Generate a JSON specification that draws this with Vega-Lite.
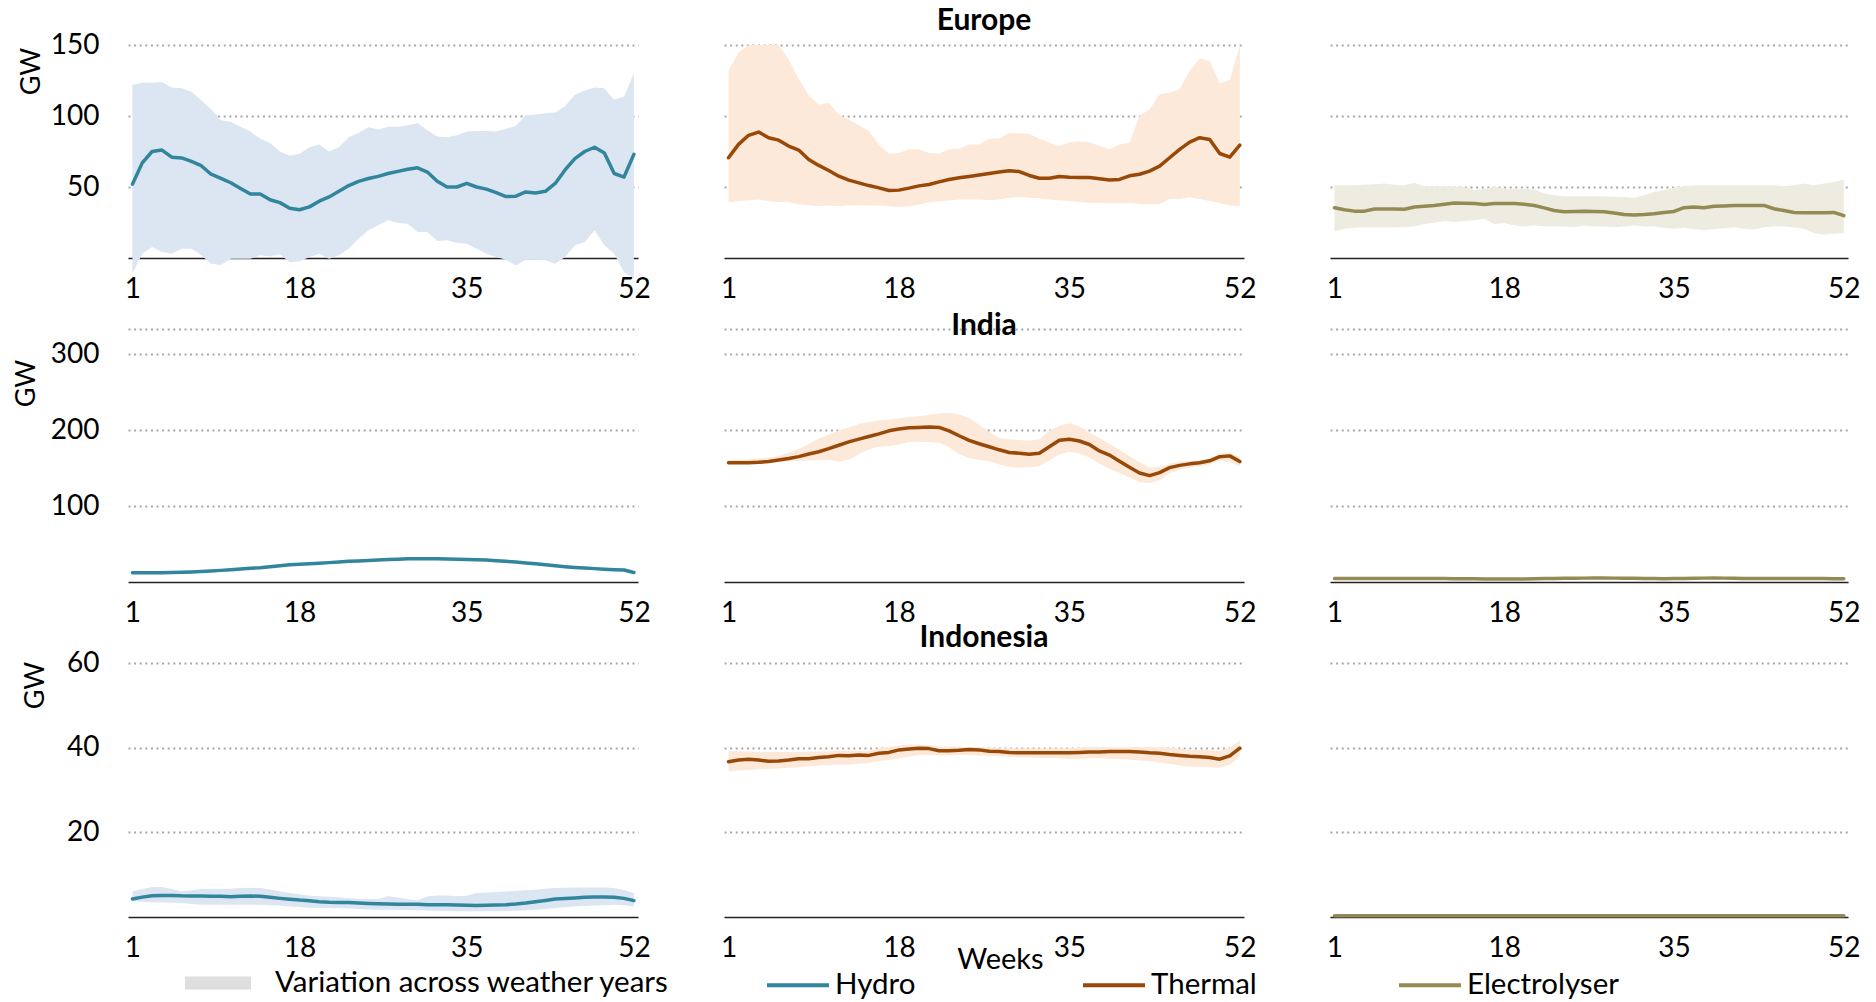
{
"$schema":"https://vega.github.io/schema/vega-lite/v6.json",
"background":"white",
"padding":{"left":12,"top":6,"right":0,"bottom":0},
"datasets":{
"EH":[{"w":1,"m":52,"lo":-11,"hi":122},{"w":2,"m":67,"lo":3,"hi":123.5},{"w":3,"m":75,"lo":7.8,"hi":123.5},{"w":4,"m":76,"lo":4.2,"hi":124},{"w":5,"m":71,"lo":3,"hi":120},{"w":6,"m":70.5,"lo":6.6,"hi":119.5},{"w":7,"m":68,"lo":6.6,"hi":117},{"w":8,"m":65,"lo":2,"hi":111},{"w":9,"m":59,"lo":-4,"hi":105},{"w":10,"m":56,"lo":-5,"hi":97},{"w":11,"m":53,"lo":-0.5,"hi":96},{"w":12,"m":49,"lo":-0.5,"hi":92.5},{"w":13,"m":45,"lo":-0.5,"hi":89},{"w":14,"m":45,"lo":2,"hi":84},{"w":15,"m":41,"lo":1,"hi":81},{"w":16,"m":39,"lo":2.6,"hi":75},{"w":17,"m":35,"lo":-3,"hi":72},{"w":18,"m":34,"lo":-2.4,"hi":73.5},{"w":19,"m":36,"lo":0.7,"hi":78},{"w":20,"m":40,"lo":3,"hi":80},{"w":21,"m":43,"lo":-0.5,"hi":75},{"w":22,"m":47,"lo":2,"hi":78},{"w":23,"m":51,"lo":6.6,"hi":85},{"w":24,"m":54,"lo":13.6,"hi":88},{"w":25,"m":56,"lo":19.5,"hi":92},{"w":26,"m":57.5,"lo":23,"hi":90.5},{"w":27,"m":59.5,"lo":26.6,"hi":92.5},{"w":28,"m":61,"lo":24.7,"hi":92.5},{"w":29,"m":62.5,"lo":24.2,"hi":93.5},{"w":30,"m":63.5,"lo":18.3,"hi":95},{"w":31,"m":60.5,"lo":18.3,"hi":90},{"w":32,"m":54,"lo":12,"hi":85.5},{"w":33,"m":50,"lo":12.5,"hi":85},{"w":34,"m":50,"lo":10.6,"hi":86.5},{"w":35,"m":52.5,"lo":10.1,"hi":89},{"w":36,"m":50,"lo":6.6,"hi":89.5},{"w":37,"m":48.5,"lo":3,"hi":89.5},{"w":38,"m":46,"lo":0.7,"hi":89},{"w":39,"m":43.3,"lo":-1.2,"hi":91},{"w":40,"m":43.5,"lo":-5.2,"hi":93},{"w":41,"m":46.5,"lo":-1.2,"hi":100.5},{"w":42,"m":45.8,"lo":-1.2,"hi":101},{"w":43,"m":47,"lo":-1.6,"hi":102},{"w":44,"m":52.5,"lo":-4,"hi":102.5},{"w":45,"m":62,"lo":0.7,"hi":107},{"w":46,"m":70,"lo":9,"hi":115},{"w":47,"m":75,"lo":11.3,"hi":118},{"w":48,"m":78,"lo":19.5,"hi":120},{"w":49,"m":74,"lo":9,"hi":119.5},{"w":50,"m":59.5,"lo":3,"hi":111.5},{"w":51,"m":57,"lo":-10,"hi":113.5},{"w":52,"m":73,"lo":-14,"hi":130}],
"ET":[{"w":1,"m":70.6,"lo":39.3,"hi":131.8},{"w":2,"m":80,"lo":40,"hi":144.7},{"w":3,"m":86.4,"lo":40.7,"hi":150},{"w":4,"m":88.7,"lo":41.2,"hi":150},{"w":5,"m":84.7,"lo":40,"hi":150},{"w":6,"m":83,"lo":39.5,"hi":150},{"w":7,"m":78.8,"lo":39.5,"hi":140},{"w":8,"m":76,"lo":37.6,"hi":126},{"w":9,"m":69.4,"lo":37.2,"hi":114.6},{"w":10,"m":65.2,"lo":36.5,"hi":108},{"w":11,"m":61.6,"lo":37,"hi":109.4},{"w":12,"m":57.6,"lo":36.5,"hi":101},{"w":13,"m":54.8,"lo":37,"hi":97.6},{"w":14,"m":52.9,"lo":37.2,"hi":93.4},{"w":15,"m":51,"lo":37,"hi":89.4},{"w":16,"m":49.4,"lo":37,"hi":80},{"w":17,"m":47.5,"lo":36.5,"hi":73.4},{"w":18,"m":47.8,"lo":36,"hi":74},{"w":19,"m":49.2,"lo":36.5,"hi":76.5},{"w":20,"m":50.8,"lo":37.6,"hi":76.5},{"w":21,"m":51.8,"lo":39.3,"hi":74},{"w":22,"m":53.6,"lo":40,"hi":73.6},{"w":23,"m":55.3,"lo":40.5,"hi":76.5},{"w":24,"m":56.5,"lo":41.2,"hi":77},{"w":25,"m":57.4,"lo":41.2,"hi":80},{"w":26,"m":58.4,"lo":41.2,"hi":80},{"w":27,"m":59.5,"lo":40.7,"hi":84.2},{"w":28,"m":60.5,"lo":41.2,"hi":84.2},{"w":29,"m":61.4,"lo":42.4,"hi":88.2},{"w":30,"m":60.9,"lo":43,"hi":87.8},{"w":31,"m":58.1,"lo":42.4,"hi":87.5},{"w":32,"m":56.2,"lo":42.1,"hi":84},{"w":33,"m":56.2,"lo":41.2,"hi":81.2},{"w":34,"m":57.4,"lo":40.7,"hi":78.8},{"w":35,"m":56.9,"lo":40,"hi":81.6},{"w":36,"m":56.7,"lo":39.5,"hi":82},{"w":37,"m":56.7,"lo":38.8,"hi":81.6},{"w":38,"m":55.8,"lo":38.8,"hi":78.8},{"w":39,"m":55,"lo":38.8,"hi":76.5},{"w":40,"m":55.3,"lo":38.4,"hi":80},{"w":41,"m":57.9,"lo":38.8,"hi":81.2},{"w":42,"m":59,"lo":38.1,"hi":100},{"w":43,"m":61.2,"lo":37.6,"hi":104.7},{"w":44,"m":64.7,"lo":38.1,"hi":115.3},{"w":45,"m":70.6,"lo":41.6,"hi":116.5},{"w":46,"m":76.5,"lo":41.6,"hi":118.8},{"w":47,"m":81.6,"lo":42.8,"hi":131.8},{"w":48,"m":84.7,"lo":41.6,"hi":140.5},{"w":49,"m":83.5,"lo":40.2,"hi":138.8},{"w":50,"m":73.6,"lo":38.8,"hi":123},{"w":51,"m":71,"lo":37,"hi":125.4},{"w":52,"m":79.5,"lo":36.5,"hi":149.4}],
"EE":[{"w":1,"m":35.4,"lo":18.7,"hi":51.3},{"w":2,"m":34,"lo":20.6,"hi":51.3},{"w":3,"m":33,"lo":21.3,"hi":51.3},{"w":4,"m":33,"lo":21.7,"hi":51.5},{"w":5,"m":34.5,"lo":21.7,"hi":52},{"w":6,"m":34.5,"lo":21.7,"hi":52.5},{"w":7,"m":34.5,"lo":21.7,"hi":51.5},{"w":8,"m":34.3,"lo":21.7,"hi":51.3},{"w":9,"m":35.9,"lo":22.2,"hi":53},{"w":10,"m":36.5,"lo":24,"hi":50.5},{"w":11,"m":37,"lo":24.8,"hi":50.5},{"w":12,"m":37.8,"lo":26,"hi":50.5},{"w":13,"m":38.7,"lo":25.3,"hi":50.5},{"w":14,"m":38.5,"lo":26,"hi":50},{"w":15,"m":38.3,"lo":26.5,"hi":47.7},{"w":16,"m":37.6,"lo":27.6,"hi":48.6},{"w":17,"m":38.3,"lo":24,"hi":50.5},{"w":18,"m":38.3,"lo":24.6,"hi":48.8},{"w":19,"m":38.3,"lo":22.9,"hi":48.8},{"w":20,"m":37.8,"lo":22.2,"hi":48.8},{"w":21,"m":37,"lo":22.9,"hi":48.5},{"w":22,"m":35.3,"lo":22.4,"hi":45.4},{"w":23,"m":33.5,"lo":22.2,"hi":44.2},{"w":24,"m":32.6,"lo":22.2,"hi":43.5},{"w":25,"m":32.8,"lo":21.7,"hi":43.5},{"w":26,"m":33,"lo":22.9,"hi":43.5},{"w":27,"m":32.8,"lo":22.2,"hi":43.5},{"w":28,"m":32.6,"lo":22.2,"hi":43.5},{"w":29,"m":31.7,"lo":21.7,"hi":43.2},{"w":30,"m":30.7,"lo":22.2,"hi":43},{"w":31,"m":30.2,"lo":22.9,"hi":42.5},{"w":32,"m":30.6,"lo":22.2,"hi":44.2},{"w":33,"m":31.2,"lo":22.2,"hi":46.5},{"w":34,"m":32,"lo":21.3,"hi":47.7},{"w":35,"m":32.8,"lo":20.6,"hi":49.6},{"w":36,"m":35.4,"lo":21.3,"hi":50.5},{"w":37,"m":35.9,"lo":20.3,"hi":51.3},{"w":38,"m":35.4,"lo":19.8,"hi":51.3},{"w":39,"m":36.4,"lo":20.3,"hi":51.3},{"w":40,"m":36.7,"lo":21,"hi":51.3},{"w":41,"m":37,"lo":21.7,"hi":51.3},{"w":42,"m":37,"lo":20.6,"hi":51.3},{"w":43,"m":37,"lo":20.1,"hi":51.3},{"w":44,"m":37,"lo":21.7,"hi":51.3},{"w":45,"m":34.7,"lo":22.2,"hi":51.3},{"w":46,"m":33.4,"lo":22.2,"hi":50.5},{"w":47,"m":32.1,"lo":21.7,"hi":51.3},{"w":48,"m":31.9,"lo":20.6,"hi":52.4},{"w":49,"m":31.9,"lo":17.5,"hi":51.3},{"w":50,"m":31.9,"lo":16.5,"hi":52.4},{"w":51,"m":32.1,"lo":17,"hi":53.6},{"w":52,"m":29.8,"lo":17.5,"hi":55.3}],
"IH":[{"w":1,"m":12.3,"lo":10.7,"hi":13.9},{"w":2,"m":12.2,"lo":10.6,"hi":13.8},{"w":3,"m":12.2,"lo":10.6,"hi":13.8},{"w":4,"m":12.3,"lo":10.7,"hi":13.9},{"w":5,"m":12.5,"lo":10.9,"hi":14.1},{"w":6,"m":12.8,"lo":11.2,"hi":14.4},{"w":7,"m":13.2,"lo":11.6,"hi":14.8},{"w":8,"m":13.8,"lo":12.2,"hi":15.4},{"w":9,"m":14.5,"lo":12.9,"hi":16.1},{"w":10,"m":15.3,"lo":13.7,"hi":16.9},{"w":11,"m":16.2,"lo":14.6,"hi":17.8},{"w":12,"m":17,"lo":15.4,"hi":18.6},{"w":13,"m":18,"lo":16.4,"hi":19.6},{"w":14,"m":18.9,"lo":17.3,"hi":20.5},{"w":15,"m":20.2,"lo":18.6,"hi":21.8},{"w":16,"m":21.5,"lo":19.9,"hi":23.1},{"w":17,"m":22.8,"lo":21.2,"hi":24.4},{"w":18,"m":23.4,"lo":21.8,"hi":25},{"w":19,"m":24.1,"lo":22.5,"hi":25.7},{"w":20,"m":24.8,"lo":23.2,"hi":26.4},{"w":21,"m":25.5,"lo":23.9,"hi":27.1},{"w":22,"m":26.3,"lo":24.7,"hi":27.9},{"w":23,"m":27.2,"lo":25.6,"hi":28.8},{"w":24,"m":27.8,"lo":26.2,"hi":29.4},{"w":25,"m":28.4,"lo":26.8,"hi":30},{"w":26,"m":29,"lo":27.4,"hi":30.6},{"w":27,"m":29.6,"lo":28,"hi":31.2},{"w":28,"m":30,"lo":28.4,"hi":31.6},{"w":29,"m":30.5,"lo":28.9,"hi":32.1},{"w":30,"m":30.6,"lo":29,"hi":32.2},{"w":31,"m":30.7,"lo":29.1,"hi":32.3},{"w":32,"m":30.5,"lo":28.9,"hi":32.1},{"w":33,"m":30.2,"lo":28.6,"hi":31.8},{"w":34,"m":29.9,"lo":28.3,"hi":31.5},{"w":35,"m":29.7,"lo":28.1,"hi":31.3},{"w":36,"m":29.3,"lo":27.7,"hi":30.9},{"w":37,"m":28.8,"lo":27.2,"hi":30.4},{"w":38,"m":28,"lo":26.4,"hi":29.6},{"w":39,"m":27.2,"lo":25.6,"hi":28.8},{"w":40,"m":26.2,"lo":24.6,"hi":27.8},{"w":41,"m":25.1,"lo":23.5,"hi":26.7},{"w":42,"m":23.9,"lo":22.3,"hi":25.5},{"w":43,"m":22.6,"lo":21,"hi":24.2},{"w":44,"m":21.3,"lo":19.7,"hi":22.9},{"w":45,"m":20.2,"lo":18.6,"hi":21.8},{"w":46,"m":19.2,"lo":17.6,"hi":20.8},{"w":47,"m":18.4,"lo":16.8,"hi":20},{"w":48,"m":17.6,"lo":16,"hi":19.2},{"w":49,"m":16.8,"lo":15.2,"hi":18.4},{"w":50,"m":16.2,"lo":14.6,"hi":17.8},{"w":51,"m":15.8,"lo":14.2,"hi":17.4},{"w":52,"m":12.5,"lo":10.9,"hi":14.1}],
"IT":[{"w":1,"m":157,"lo":155,"hi":160.5},{"w":2,"m":157,"lo":155.3,"hi":161},{"w":3,"m":157,"lo":155.8,"hi":161.5},{"w":4,"m":157.5,"lo":156.3,"hi":162.5},{"w":5,"m":158.5,"lo":157,"hi":164},{"w":6,"m":160.5,"lo":157.8,"hi":166},{"w":7,"m":162.5,"lo":158.6,"hi":170.5},{"w":8,"m":165,"lo":159.4,"hi":175},{"w":9,"m":168.5,"lo":160,"hi":181.5},{"w":10,"m":171.5,"lo":160.7,"hi":188.5},{"w":11,"m":175.5,"lo":160.5,"hi":194},{"w":12,"m":180,"lo":158.5,"hi":199.5},{"w":13,"m":184.5,"lo":161,"hi":203.5},{"w":14,"m":188,"lo":168,"hi":208},{"w":15,"m":191.5,"lo":174.7,"hi":210.5},{"w":16,"m":195,"lo":178,"hi":212.7},{"w":17,"m":199,"lo":179,"hi":214},{"w":18,"m":201.5,"lo":181,"hi":215.5},{"w":19,"m":203,"lo":184.3,"hi":217},{"w":20,"m":203.5,"lo":184.7,"hi":218.3},{"w":21,"m":204,"lo":184.3,"hi":220},{"w":22,"m":203.5,"lo":183.4,"hi":221.8},{"w":23,"m":199,"lo":177.5,"hi":222.7},{"w":24,"m":192.5,"lo":168.5,"hi":220.5},{"w":25,"m":186.5,"lo":163,"hi":216},{"w":26,"m":182,"lo":161,"hi":207},{"w":27,"m":178,"lo":158.8,"hi":197.5},{"w":28,"m":174,"lo":154.5,"hi":189.5},{"w":29,"m":170.5,"lo":151.7,"hi":187.8},{"w":30,"m":169.5,"lo":150.7,"hi":187},{"w":31,"m":168,"lo":150.7,"hi":186},{"w":32,"m":169.5,"lo":152.8,"hi":188},{"w":33,"m":178,"lo":160,"hi":199},{"w":34,"m":186.5,"lo":168,"hi":205.5},{"w":35,"m":188,"lo":171,"hi":209},{"w":36,"m":185.6,"lo":169.5,"hi":205},{"w":37,"m":181,"lo":164,"hi":196.5},{"w":38,"m":172.5,"lo":156,"hi":189.5},{"w":39,"m":167,"lo":149,"hi":182},{"w":40,"m":159,"lo":143.5,"hi":174},{"w":41,"m":151,"lo":137.5,"hi":165.5},{"w":42,"m":143.5,"lo":131.5,"hi":157.5},{"w":43,"m":140,"lo":130,"hi":150.5},{"w":44,"m":144,"lo":134,"hi":151.5},{"w":45,"m":150.5,"lo":143,"hi":155.5},{"w":46,"m":153.5,"lo":148,"hi":158.5},{"w":47,"m":155.5,"lo":150.5,"hi":159.2},{"w":48,"m":157,"lo":152.5,"hi":160.2},{"w":49,"m":159.5,"lo":154.5,"hi":163},{"w":50,"m":165,"lo":160,"hi":169.5},{"w":51,"m":166,"lo":158,"hi":170.5},{"w":52,"m":158.5,"lo":152,"hi":163.8}],
"IE":[{"w":1,"m":4.6,"lo":3.8,"hi":5.4},{"w":2,"m":4.6,"lo":3.8,"hi":5.4},{"w":3,"m":4.6,"lo":3.8,"hi":5.4},{"w":4,"m":4.6,"lo":3.8,"hi":5.4},{"w":5,"m":4.6,"lo":3.8,"hi":5.4},{"w":6,"m":4.6,"lo":3.8,"hi":5.4},{"w":7,"m":4.6,"lo":3.8,"hi":5.4},{"w":8,"m":4.6,"lo":3.8,"hi":5.4},{"w":9,"m":4.6,"lo":3.8,"hi":5.4},{"w":10,"m":4.6,"lo":3.8,"hi":5.4},{"w":11,"m":4.6,"lo":3.8,"hi":5.4},{"w":12,"m":4.5,"lo":3.7,"hi":5.3},{"w":13,"m":4.4,"lo":3.6,"hi":5.2},{"w":14,"m":4.3,"lo":3.5,"hi":5.1},{"w":15,"m":4.2,"lo":3.4,"hi":5},{"w":16,"m":4.1,"lo":3.3,"hi":4.9},{"w":17,"m":4,"lo":3.2,"hi":4.8},{"w":18,"m":4,"lo":3.2,"hi":4.8},{"w":19,"m":4,"lo":3.2,"hi":4.8},{"w":20,"m":4.1,"lo":3.3,"hi":4.9},{"w":21,"m":4.3,"lo":3.5,"hi":5.1},{"w":22,"m":4.5,"lo":3.7,"hi":5.3},{"w":23,"m":4.7,"lo":3.9,"hi":5.5},{"w":24,"m":4.9,"lo":4.1,"hi":5.7},{"w":25,"m":5,"lo":4.2,"hi":5.8},{"w":26,"m":5.1,"lo":4.3,"hi":5.9},{"w":27,"m":5.2,"lo":4.4,"hi":6},{"w":28,"m":5.2,"lo":4.4,"hi":6},{"w":29,"m":5.1,"lo":4.3,"hi":5.9},{"w":30,"m":5,"lo":4.2,"hi":5.8},{"w":31,"m":4.8,"lo":4,"hi":5.6},{"w":32,"m":4.6,"lo":3.8,"hi":5.4},{"w":33,"m":4.5,"lo":3.7,"hi":5.3},{"w":34,"m":4.4,"lo":3.6,"hi":5.2},{"w":35,"m":4.5,"lo":3.7,"hi":5.3},{"w":36,"m":4.7,"lo":3.9,"hi":5.5},{"w":37,"m":4.9,"lo":4.1,"hi":5.7},{"w":38,"m":5.1,"lo":4.3,"hi":5.9},{"w":39,"m":5.2,"lo":4.4,"hi":6},{"w":40,"m":5.1,"lo":4.3,"hi":5.9},{"w":41,"m":4.9,"lo":4.1,"hi":5.7},{"w":42,"m":4.7,"lo":3.9,"hi":5.5},{"w":43,"m":4.6,"lo":3.8,"hi":5.4},{"w":44,"m":4.5,"lo":3.7,"hi":5.3},{"w":45,"m":4.5,"lo":3.7,"hi":5.3},{"w":46,"m":4.5,"lo":3.7,"hi":5.3},{"w":47,"m":4.5,"lo":3.7,"hi":5.3},{"w":48,"m":4.5,"lo":3.7,"hi":5.3},{"w":49,"m":4.5,"lo":3.7,"hi":5.3},{"w":50,"m":4.5,"lo":3.7,"hi":5.3},{"w":51,"m":4.4,"lo":3.6,"hi":5.2},{"w":52,"m":4.3,"lo":3.5,"hi":5.1}],
"NH":[{"w":1,"m":4.25,"lo":3.7,"hi":6.1},{"w":2,"m":4.7,"lo":3.6,"hi":6.6},{"w":3,"m":5,"lo":3.46,"hi":7.1},{"w":4,"m":5.1,"lo":3.4,"hi":7.1},{"w":5,"m":5.1,"lo":3.35,"hi":6.6},{"w":6,"m":5,"lo":3.3,"hi":6.1},{"w":7,"m":4.96,"lo":3.1,"hi":6.3},{"w":8,"m":4.96,"lo":2.9,"hi":6.6},{"w":9,"m":4.9,"lo":2.9,"hi":6.6},{"w":10,"m":4.9,"lo":2.9,"hi":6.6},{"w":11,"m":4.8,"lo":2.9,"hi":6.7},{"w":12,"m":4.9,"lo":2.9,"hi":6.85},{"w":13,"m":4.96,"lo":2.9,"hi":6.85},{"w":14,"m":4.9,"lo":2.9,"hi":6.85},{"w":15,"m":4.65,"lo":2.8,"hi":6.5},{"w":16,"m":4.4,"lo":2.7,"hi":6.1},{"w":17,"m":4.2,"lo":2.5,"hi":5.7},{"w":18,"m":4,"lo":2.36,"hi":5.3},{"w":19,"m":3.86,"lo":2.2,"hi":5.1},{"w":20,"m":3.6,"lo":2.1,"hi":4.9},{"w":21,"m":3.46,"lo":2.1,"hi":4.8},{"w":22,"m":3.4,"lo":2.05,"hi":4.65},{"w":23,"m":3.4,"lo":2,"hi":4.45},{"w":24,"m":3.3,"lo":1.9,"hi":4.25},{"w":25,"m":3.2,"lo":1.8,"hi":4.25},{"w":26,"m":3.15,"lo":1.73,"hi":4.25},{"w":27,"m":3.07,"lo":1.73,"hi":4.9},{"w":28,"m":3,"lo":1.73,"hi":4.6},{"w":29,"m":3,"lo":1.65,"hi":4.25},{"w":30,"m":3,"lo":1.57,"hi":3.9},{"w":31,"m":2.9,"lo":1.55,"hi":4.9},{"w":32,"m":2.9,"lo":1.5,"hi":5.1},{"w":33,"m":2.9,"lo":1.4,"hi":5.1},{"w":34,"m":2.83,"lo":1.34,"hi":4.9},{"w":35,"m":2.75,"lo":1.34,"hi":5},{"w":36,"m":2.7,"lo":1.34,"hi":5.7},{"w":37,"m":2.75,"lo":1.34,"hi":5.8},{"w":38,"m":2.83,"lo":1.34,"hi":5.9},{"w":39,"m":2.9,"lo":1.4,"hi":6},{"w":40,"m":3.07,"lo":1.5,"hi":6.2},{"w":41,"m":3.3,"lo":1.6,"hi":6.3},{"w":42,"m":3.6,"lo":1.73,"hi":6.45},{"w":43,"m":3.9,"lo":1.9,"hi":6.65},{"w":44,"m":4.25,"lo":2.1,"hi":6.85},{"w":45,"m":4.4,"lo":2.3,"hi":6.9},{"w":46,"m":4.5,"lo":2.5,"hi":7},{"w":47,"m":4.65,"lo":2.6,"hi":7},{"w":48,"m":4.7,"lo":2.7,"hi":7},{"w":49,"m":4.7,"lo":2.8,"hi":7},{"w":50,"m":4.65,"lo":2.9,"hi":6.85},{"w":51,"m":4.4,"lo":2.8,"hi":6.4},{"w":52,"m":3.86,"lo":2.5,"hi":5.7}],
"NT":[{"w":1,"m":36.7,"lo":34.4,"hi":39.3},{"w":2,"m":37.1,"lo":34.6,"hi":39.2},{"w":3,"m":37.3,"lo":34.7,"hi":39.1},{"w":4,"m":37.1,"lo":34.9,"hi":39},{"w":5,"m":36.8,"lo":35,"hi":39},{"w":6,"m":36.9,"lo":35.1,"hi":39},{"w":7,"m":37.1,"lo":35.3,"hi":39},{"w":8,"m":37.4,"lo":35.4,"hi":39},{"w":9,"m":37.4,"lo":35.6,"hi":39.1},{"w":10,"m":37.7,"lo":35.8,"hi":39.1},{"w":11,"m":37.9,"lo":35.9,"hi":39.2},{"w":12,"m":38.2,"lo":36,"hi":39.3},{"w":13,"m":38.1,"lo":36,"hi":39.3},{"w":14,"m":38.3,"lo":36.2,"hi":39.3},{"w":15,"m":38.2,"lo":36.4,"hi":39.3},{"w":16,"m":38.7,"lo":36.8,"hi":39.8},{"w":17,"m":38.9,"lo":37.1,"hi":40.2},{"w":18,"m":39.5,"lo":37.5,"hi":40.6},{"w":19,"m":39.7,"lo":37.9,"hi":40.8},{"w":20,"m":39.9,"lo":38.3,"hi":40.8},{"w":21,"m":39.8,"lo":38.3,"hi":40.6},{"w":22,"m":39.3,"lo":38.2,"hi":40.3},{"w":23,"m":39.3,"lo":38.2,"hi":40.3},{"w":24,"m":39.4,"lo":38.3,"hi":40.3},{"w":25,"m":39.6,"lo":38.3,"hi":40.2},{"w":26,"m":39.5,"lo":38.2,"hi":40.1},{"w":27,"m":39.2,"lo":38.1,"hi":40},{"w":28,"m":39.1,"lo":38,"hi":39.9},{"w":29,"m":38.9,"lo":37.9,"hi":39.9},{"w":30,"m":38.8,"lo":37.7,"hi":39.8},{"w":31,"m":38.8,"lo":37.7,"hi":39.8},{"w":32,"m":38.8,"lo":37.6,"hi":39.8},{"w":33,"m":38.8,"lo":37.6,"hi":39.8},{"w":34,"m":38.8,"lo":37.5,"hi":39.9},{"w":35,"m":38.8,"lo":37.3,"hi":39.9},{"w":36,"m":38.9,"lo":37.4,"hi":40},{"w":37,"m":39,"lo":37.5,"hi":40.1},{"w":38,"m":39,"lo":37.5,"hi":40.2},{"w":39,"m":39.1,"lo":37.4,"hi":40.2},{"w":40,"m":39.1,"lo":37.3,"hi":40.2},{"w":41,"m":39.1,"lo":37.2,"hi":40.2},{"w":42,"m":39,"lo":37,"hi":40.2},{"w":43,"m":38.8,"lo":36.8,"hi":40.2},{"w":44,"m":38.7,"lo":36.5,"hi":40.2},{"w":45,"m":38.4,"lo":36.2,"hi":40},{"w":46,"m":38.2,"lo":35.8,"hi":39.8},{"w":47,"m":38,"lo":35.6,"hi":39.6},{"w":48,"m":37.9,"lo":35.5,"hi":39.5},{"w":49,"m":37.7,"lo":35.4,"hi":39.4},{"w":50,"m":37.3,"lo":35.3,"hi":39.2},{"w":51,"m":38.1,"lo":36,"hi":40},{"w":52,"m":39.9,"lo":37.8,"hi":41.7}],
"NE":[{"w":1,"m":0.3,"lo":0.1,"hi":0.6},{"w":4,"m":0.3,"lo":0.1,"hi":0.6},{"w":8,"m":0.3,"lo":0.1,"hi":0.6},{"w":12,"m":0.3,"lo":0.1,"hi":0.6},{"w":16,"m":0.3,"lo":0.1,"hi":0.6},{"w":20,"m":0.3,"lo":0.1,"hi":0.6},{"w":24,"m":0.3,"lo":0.1,"hi":0.6},{"w":28,"m":0.3,"lo":0.1,"hi":0.6},{"w":32,"m":0.3,"lo":0.1,"hi":0.6},{"w":36,"m":0.3,"lo":0.1,"hi":0.6},{"w":40,"m":0.3,"lo":0.1,"hi":0.6},{"w":44,"m":0.3,"lo":0.1,"hi":0.6},{"w":48,"m":0.3,"lo":0.1,"hi":0.6},{"w":52,"m":0.3,"lo":0.1,"hi":0.6}]
},
"columns":3,
"spacing":{"row":71,"column":86},
"bounds":"flush",
"align":"each",
"concat":[
{"width":510,"height":213,"data":{"name":"EH"},
"encoding":{"x":{"field":"w","type":"quantitative","scale":{"domain":[0.55,52.42],"nice":false,"zero":false},"axis":{"values":[1,18,35,52],"title":null}}},
"layer":[
{"mark":{"type":"area","color":"#DCE6F2","opacity":1},"encoding":{"y":{"field":"lo","type":"quantitative","scale":{"domain":[0,150],"nice":false},"axis":{"values":[50,100,150],"title":"GW","titleX":-97,"titleY":26}},"y2":{"field":"hi"}}},
{"transform":[{"filter":"false"}],"mark":{"type":"area","color":"#DEDEDE"},"encoding":{"y":{"field":"lo","type":"quantitative","axis":{"values":[50,100,150],"title":"GW","titleX":-97,"titleY":26}},"y2":{"field":"hi"},
"opacity":{"datum":"Variation across weather years","type":"ordinal","scale":{"range":[1,1]},"legend":{"title":null,"orient":"none","legendX":57,"legendY":905,"symbolType":"M-1,-0.2H1V0.2H-1Z","symbolSize":4356,"symbolFillColor":"#DEDEDE","symbolStrokeWidth":0,"labelOffset":24,"labelLimit":1000}}}},
{"mark":{"type":"line","strokeWidth":3.5,"strokeJoin":"round","strokeCap":"round"},"encoding":{"y":{"field":"m","type":"quantitative","axis":{"values":[50,100,150],"title":"GW","titleX":-97,"titleY":26}},
"stroke":{"datum":"Hydro","type":"nominal","scale":{"domain":["Hydro","Thermal","Electrolyser"],"range":["#31859C","#984807","#948A54"]},"legend":{"title":null,"orient":"none","legendX":637,"legendY":907,"direction":"horizontal","symbolType":"stroke","symbolSize":3844,"symbolStrokeWidth":4,"labelOffset":4,"gridAlign":"all","columnPadding":88,"labelLimit":1000}}}}
]},
{"width":520,"height":213,"data":{"name":"ET"},
"title":{"text":"Europe","offset":-15,"baseline":"alphabetic","fontSize":30,"fontWeight":"bold","font":"Lato","color":"#000"},
"encoding":{"x":{"field":"w","type":"quantitative","scale":{"domain":[0.55,52.42],"nice":false,"zero":false},"axis":{"values":[1,18,35,52],"title":null}}},
"layer":[
{"mark":{"type":"area","color":"#FDE9D9","opacity":1},"encoding":{"y":{"field":"lo","type":"quantitative","scale":{"domain":[0,150],"nice":false},"axis":{"values":[50,100,150],"labels":false,"title":null}},"y2":{"field":"hi"}}},
{"mark":{"type":"line","color":"#984807","strokeWidth":3.5,"strokeJoin":"round","strokeCap":"round"},"encoding":{"y":{"field":"m","type":"quantitative","axis":{"values":[50,100,150],"labels":false,"title":null}}}}
]},
{"width":518,"height":213,"data":{"name":"EE"},
"encoding":{"x":{"field":"w","type":"quantitative","scale":{"domain":[0.55,52.42],"nice":false,"zero":false},"axis":{"values":[1,18,35,52],"title":null}}},
"layer":[
{"mark":{"type":"area","color":"#EEECE1","opacity":1},"encoding":{"y":{"field":"lo","type":"quantitative","scale":{"domain":[0,150],"nice":false},"axis":{"values":[50,100,150],"labels":false,"title":null}},"y2":{"field":"hi"}}},
{"mark":{"type":"line","color":"#948A54","strokeWidth":3.5,"strokeJoin":"round","strokeCap":"round"},"encoding":{"y":{"field":"m","type":"quantitative","axis":{"values":[50,100,150],"labels":false,"title":null}}}}
]},
{"width":510,"height":253,"data":{"name":"IH"},
"encoding":{"x":{"field":"w","type":"quantitative","scale":{"domain":[0.55,52.42],"nice":false,"zero":false},"axis":{"values":[1,18,35,52],"title":null}}},
"layer":[
{"mark":{"type":"area","color":"#DCE6F2","opacity":1},"encoding":{"y":{"field":"lo","type":"quantitative","scale":{"domain":[0,333],"nice":false},"axis":{"values":[100,200,300,333],"labelExpr":"datum.value == 333 ? '' : datum.label","title":"GW","titleX":-102,"titleY":54}},"y2":{"field":"hi"}}},
{"mark":{"type":"line","color":"#31859C","strokeWidth":3.5,"strokeJoin":"round","strokeCap":"round"},"encoding":{"y":{"field":"m","type":"quantitative","axis":{"values":[100,200,300,333],"labelExpr":"datum.value == 333 ? '' : datum.label","title":"GW","titleX":-102,"titleY":54}}}}
]},
{"width":520,"height":253,"data":{"name":"IT"},
"title":{"text":"India","offset":-35.5,"baseline":"alphabetic","fontSize":30,"fontWeight":"bold","font":"Lato","color":"#000"},
"encoding":{"x":{"field":"w","type":"quantitative","scale":{"domain":[0.55,52.42],"nice":false,"zero":false},"axis":{"values":[1,18,35,52],"title":null}}},
"layer":[
{"mark":{"type":"area","color":"#FDE9D9","opacity":1},"encoding":{"y":{"field":"lo","type":"quantitative","scale":{"domain":[0,333],"nice":false},"axis":{"values":[100,200,300,333],"labels":false,"title":null}},"y2":{"field":"hi"}}},
{"mark":{"type":"line","color":"#984807","strokeWidth":3.5,"strokeJoin":"round","strokeCap":"round"},"encoding":{"y":{"field":"m","type":"quantitative","axis":{"values":[100,200,300,333],"labels":false,"title":null}}}}
]},
{"width":518,"height":253,"data":{"name":"IE"},
"encoding":{"x":{"field":"w","type":"quantitative","scale":{"domain":[0.55,52.42],"nice":false,"zero":false},"axis":{"values":[1,18,35,52],"title":null}}},
"layer":[
{"mark":{"type":"area","color":"#EEECE1","opacity":1},"encoding":{"y":{"field":"lo","type":"quantitative","scale":{"domain":[0,333],"nice":false},"axis":{"values":[100,200,300,333],"labels":false,"title":null}},"y2":{"field":"hi"}}},
{"mark":{"type":"line","color":"#948A54","strokeWidth":3.5,"strokeJoin":"round","strokeCap":"round"},"encoding":{"y":{"field":"m","type":"quantitative","axis":{"values":[100,200,300,333],"labels":false,"title":null}}}}
]},
{"width":510,"height":264,"data":{"name":"NH"},
"encoding":{"x":{"field":"w","type":"quantitative","scale":{"domain":[0.55,52.42],"nice":false,"zero":false},"axis":{"values":[1,18,35,52],"title":null}}},
"layer":[
{"mark":{"type":"area","color":"#DCE6F2","opacity":1},"encoding":{"y":{"field":"lo","type":"quantitative","scale":{"domain":[0,62.4],"nice":false},"axis":{"values":[20,40,60],"title":"GW","titleX":-93,"titleY":32}},"y2":{"field":"hi"}}},
{"mark":{"type":"line","color":"#31859C","strokeWidth":3.5,"strokeJoin":"round","strokeCap":"round"},"encoding":{"y":{"field":"m","type":"quantitative","axis":{"values":[20,40,60],"title":"GW","titleX":-93,"titleY":32}}}}
]},
{"width":520,"height":264,"data":{"name":"NT"},
"title":{"text":"Indonesia","offset":-24,"baseline":"alphabetic","fontSize":30,"fontWeight":"bold","font":"Lato","color":"#000"},
"encoding":{"x":{"field":"w","type":"quantitative","scale":{"domain":[0.55,52.42],"nice":false,"zero":false},"axis":{"values":[1,18,35,52],"title":"Weeks","titleX":276,"titleY":51,"titleBaseline":"alphabetic","titleAlign":"center","titleFontSize":29}}},
"layer":[
{"mark":{"type":"area","color":"#FDE9D9","opacity":1},"encoding":{"y":{"field":"lo","type":"quantitative","scale":{"domain":[0,62.4],"nice":false},"axis":{"values":[20,40,60],"labels":false,"title":null}},"y2":{"field":"hi"}}},
{"mark":{"type":"line","color":"#984807","strokeWidth":3.5,"strokeJoin":"round","strokeCap":"round"},"encoding":{"y":{"field":"m","type":"quantitative","axis":{"values":[20,40,60],"labels":false,"title":null}}}}
]},
{"width":518,"height":264,"data":{"name":"NE"},
"encoding":{"x":{"field":"w","type":"quantitative","scale":{"domain":[0.55,52.42],"nice":false,"zero":false},"axis":{"values":[1,18,35,52],"title":null}}},
"layer":[
{"mark":{"type":"area","color":"#EEECE1","opacity":1},"encoding":{"y":{"field":"lo","type":"quantitative","scale":{"domain":[0,62.4],"nice":false},"axis":{"values":[20,40,60],"labels":false,"title":null}},"y2":{"field":"hi"}}},
{"mark":{"type":"line","color":"#948A54","strokeWidth":3.5,"strokeJoin":"round","strokeCap":"round"},"encoding":{"y":{"field":"m","type":"quantitative","axis":{"values":[20,40,60],"labels":false,"title":null}}}}
]}
],
"config":{
"font":"Lato",
"view":{"stroke":null},
"axis":{"labelFont":"Lato","labelFontSize":28,"labelColor":"#000","ticks":false,"titleFont":"Lato","titleFontSize":27,"titleFontWeight":"normal","titleColor":"#000"},
"axisX":{"grid":false,"domainColor":"#222","domainWidth":1.5,"labelPadding":31,"labelBaseline":"middle","zindex":1},
"axisY":{"grid":true,"gridColor":"#A6A6A6","gridDash":[2,3.6],"gridWidth":2,"domain":false,"labelPadding":29,"labelAlign":"right","titleAngle":-90,"titleBaseline":"middle","titleAlign":"center"},
"legend":{"labelFont":"Lato","labelFontSize":29.5,"labelColor":"#000","padding":0,"labelLimit":1000}
}
}
